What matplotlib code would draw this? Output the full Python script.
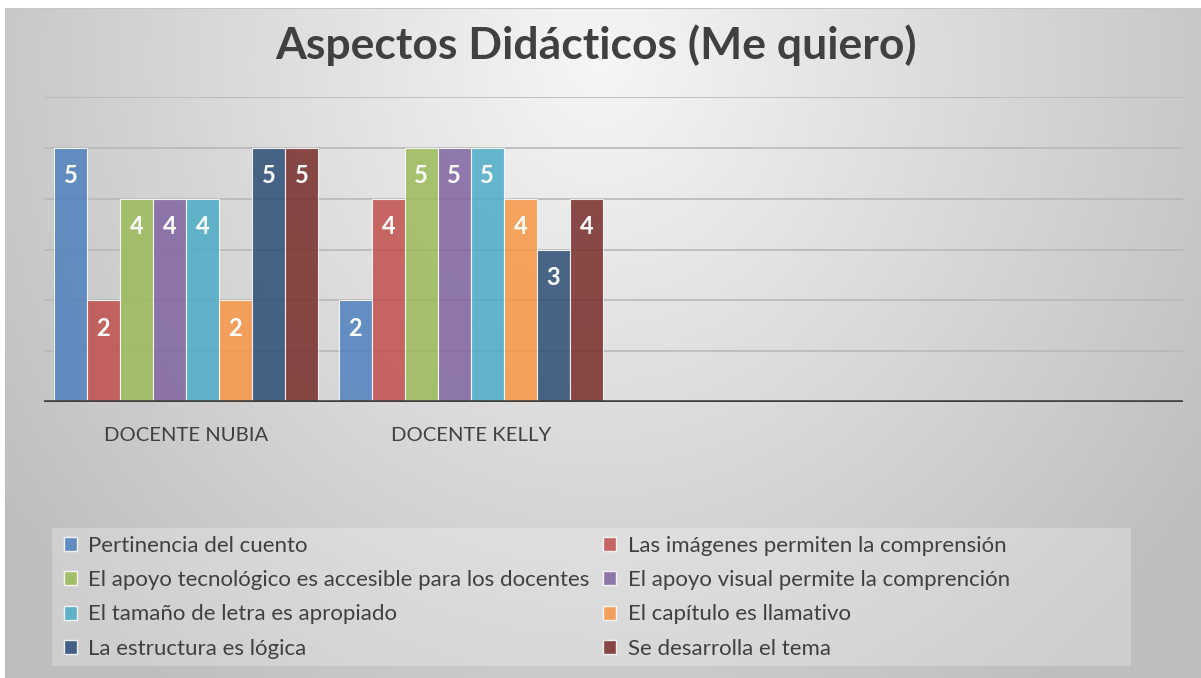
import numpy as np
import matplotlib
matplotlib.use("Agg")
import matplotlib.pyplot as plt
from matplotlib.patches import Rectangle, Patch

plt.rcParams['font.family'] = ['Lato', 'DejaVu Sans']

title = "Aspectos Didácticos (Me quiero)"
categories = ["DOCENTE NUBIA", "DOCENTE KELLY", "", ""]
series_names = [
    "Pertinencia del cuento",
    "Las imágenes permiten la comprensión",
    "El apoyo tecnológico es accesible para los docentes",
    "El apoyo visual permite la comprención",
    "El tamaño de letra es apropiado",
    "El capítulo es llamativo",
    "La estructura es lógica",
    "Se desarrolla el tema",
]
# values per series: [Nubia, Kelly, empty, empty]
pertinencia = [5, 2, None, None]
imagenes = [2, 4, None, None]
tecnologico = [4, 5, None, None]
visual = [4, 5, None, None]
tamano = [4, 5, None, None]
capitulo = [2, 4, None, None]
estructura = [5, 3, None, None]
desarrolla = [5, 4, None, None]
series_values = [pertinencia, imagenes, tecnologico, visual, tamano, capitulo, estructura, desarrolla]
colors = ["#4F81BD", "#C0504D", "#9BBB59", "#8064A2", "#4BACC6", "#F79646", "#2C4D75", "#772C2A"]
yticks = [0, 1, 2, 3, 4, 5, 6]

W, H = 1201, 678
fig = plt.figure(figsize=(W / 100, H / 100), dpi=100)

# background gradient
bg = fig.add_axes([0, 0, 1, 1], zorder=-10)
xx, yy = np.meshgrid(np.arange(W), np.arange(H))
r = np.sqrt(((xx - 600) / 600.0) ** 2 + ((yy - 60) / 650.0) ** 2)
val = np.clip(246 - 46 * r, 190, 250) / 255.0
img = np.dstack([val, val, val])
img[:8, :, :] = 1.0
img[:, :5, :] = 1.0
img[8, 5:, :] = 0.78
bg.imshow(img, extent=[0, W, H, 0], aspect='auto', interpolation='bilinear')
bg.set_xlim(0, W)
bg.set_ylim(H, 0)
bg.axis('off')

# legend background box
bg.add_patch(Rectangle((52, 528), 1131 - 52, 666 - 528, facecolor='white', alpha=0.25, edgecolor='none'))

left, right = 43.5, 1183
bottom_px, top_px = 402, 97
ax = fig.add_axes([left / W, 1 - bottom_px / H, (right - left) / W, (bottom_px - top_px) / H])
ax.patch.set_alpha(0)

n = len(series_values)
bw = 33 / 285.0
x = np.arange(len(categories))
for i, (vals, c) in enumerate(zip(series_values, colors)):
    off = (i - (n - 1) / 2) * bw
    xs = [xi + off for xi, v in zip(x, vals) if v is not None]
    vs = [v for v in vals if v is not None]
    bars = ax.bar(xs, vs, width=bw, color=c, alpha=0.85, edgecolor=(1, 1, 1, 0.45), linewidth=0.8, zorder=3)
    for b, v in zip(bars, vs):
        ax.annotate(str(v), (b.get_x() + b.get_width() / 2, v), xytext=(0, -28),
                    textcoords='offset pixels', ha='center', va='center',
                    color='white', fontsize=17, fontweight='bold', zorder=5)

ax.set_xlim(-0.5, len(categories) - 0.5)
ax.set_ylim(0, 6)
ax.set_yticks(yticks)
ax.yaxis.grid(True, color='#B8B8B8', linewidth=1.2, zorder=0)
ax.set_axisbelow(True)
ax.tick_params(axis='y', left=False, labelleft=False)
ax.set_xticks(x)
ax.set_xticklabels(categories, fontsize=14.6, color='#404040')
ax.tick_params(axis='x', length=0, pad=18)
for s in ax.spines.values():
    s.set_visible(False)
ax.axhline(0, color='#404040', linewidth=2.6, zorder=4)

fig.text(596 / W, 1 - 45 / H, title, ha='center', va='center', fontsize=32,
         fontweight='bold', color='#404040')

# legend, row-major order in two columns
handles = [Patch(facecolor=c, alpha=0.85, edgecolor=(1, 1, 1, 0.5)) for c in colors]
order = [0, 2, 4, 6, 1, 3, 5, 7]
leg = fig.legend([handles[k] for k in order], [series_names[k] for k in order],
                 ncol=2, loc='upper left', bbox_to_anchor=(64 / W, 1 - 536 / H),
                 frameon=False, fontsize=16, handlelength=0.6, handleheight=0.6,
                 handletextpad=0.5, columnspacing=0.6, labelspacing=0.64,
                 borderaxespad=0, borderpad=0)
for t in leg.get_texts():
    t.set_color('#404040')

fig.savefig("out.png", dpi=100)
